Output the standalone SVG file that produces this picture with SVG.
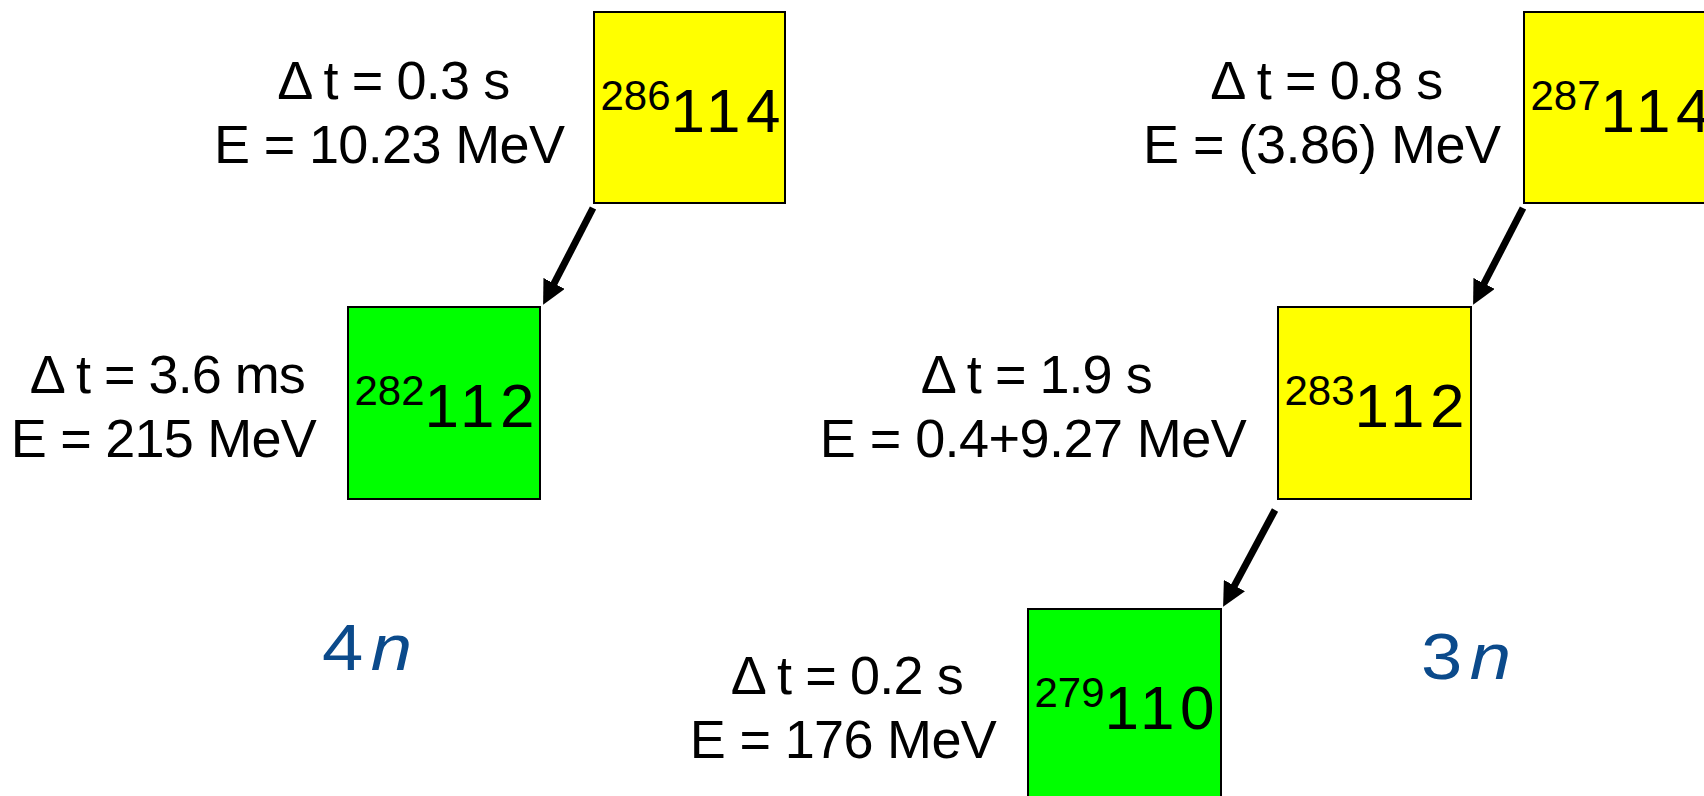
<svg xmlns="http://www.w3.org/2000/svg" width="1704" height="796" viewBox="0 0 1704 796">
<style>
.lbl{font-family:"Liberation Sans",Arial,sans-serif;font-size:54px;fill:#000;text-anchor:middle}
.box{stroke:#000;stroke-width:2}
.y{fill:#ffff00}
.g{fill:#00ff00}
.nuc{font-family:"Liberation Sans",Arial,sans-serif;fill:#000}
.sup{font-size:42px}
.z{font-size:62px;letter-spacing:5.5px}
.ch{font-family:"Liberation Sans",Arial,sans-serif;font-size:64px;fill:#0b4a8b}
.arr{stroke:#000;stroke-width:7;fill:none;marker-end:url(#ah)}
</style>
<defs>
<marker id="ah" markerUnits="userSpaceOnUse" viewBox="0 -12 24 24" markerWidth="24" markerHeight="24" refX="2" refY="0" orient="auto">
<path d="M0,-12 L24,0 L0,12 z" fill="#000"/>
</marker>
</defs>
<rect width="1704" height="796" fill="#fff"/>

<g id="n286-114">
<rect class="box y" x="594" y="12" width="191" height="191"/>
<text class="nuc" x="600.5" y="110"><tspan class="sup">286</tspan><tspan class="z" y="131.5">114</tspan></text>
<text class="lbl" x="393.7" y="99" textLength="233">Δ t = 0.3 s</text>
<text class="lbl" x="389.5" y="163" textLength="351">E = 10.23 MeV</text>
</g>

<g id="n282-112">
<rect class="box g" x="348" y="307" width="192" height="192"/>
<text class="nuc" x="354.5" y="405"><tspan class="sup">282</tspan><tspan class="z" y="426.5">112</tspan></text>
<text class="lbl" x="167.8" y="393" textLength="276">Δ t = 3.6 ms</text>
<text class="lbl" x="163.8" y="457" textLength="306">E = 215 MeV</text>
</g>

<g id="n287-114">
<rect class="box y" x="1524" y="12" width="191" height="191"/>
<text class="nuc" x="1530.5" y="110"><tspan class="sup">287</tspan><tspan class="z" y="131.5">114</tspan></text>
<text class="lbl" x="1326.8" y="99" textLength="233">Δ t = 0.8 s</text>
<text class="lbl" x="1322" y="163" textLength="358">E = (3.86) MeV</text>
</g>

<g id="n283-112">
<rect class="box y" x="1278" y="307" width="193" height="192"/>
<text class="nuc" x="1284.5" y="405"><tspan class="sup">283</tspan><tspan class="z" y="426.5">112</tspan></text>
<text class="lbl" x="1036.7" y="393" textLength="232">Δ t = 1.9 s</text>
<text class="lbl" x="1033.3" y="457" textLength="427">E = 0.4+9.27 MeV</text>
</g>

<g id="n279-110">
<rect class="box g" x="1028" y="609" width="193" height="192"/>
<text class="nuc" x="1034.5" y="707"><tspan class="sup">279</tspan><tspan class="z" y="728.5">110</tspan></text>
<text class="lbl" x="847.2" y="694" textLength="233">Δ t = 0.2 s</text>
<text class="lbl" x="843.3" y="758" textLength="307">E = 176 MeV</text>
</g>

<g id="channel-4n" transform="translate(322,670) scale(1.16,1)">
<text class="ch" x="0" y="0">4<tspan x="42" font-style="italic">n</tspan></text>
</g>
<g id="channel-3n" transform="translate(1421,679) scale(1.16,1)">
<text class="ch" x="0" y="0">3<tspan x="42" font-style="italic">n</tspan></text>
</g>

<g id="connectors">
<line class="arr" x1="593" y1="208" x2="553.2" y2="285.2"/>
<line class="arr" x1="1523" y1="208" x2="1483.2" y2="285.2"/>
<line class="arr" x1="1275" y1="510" x2="1233.5" y2="587.4"/>
</g>
</svg>
